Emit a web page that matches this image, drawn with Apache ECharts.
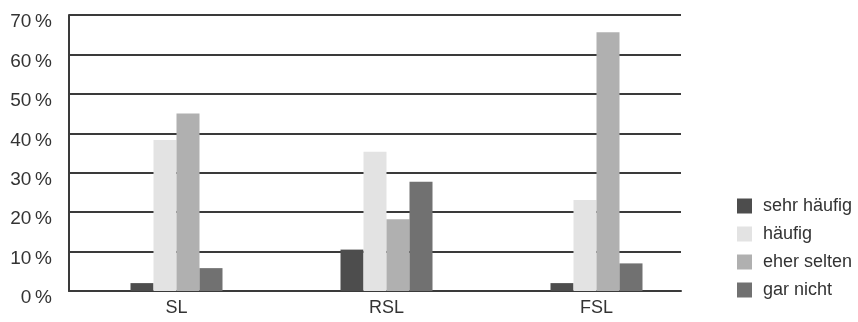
<!DOCTYPE html>
<html>
<head>
<meta charset="utf-8">
<script src="https://cdn.jsdelivr.net/npm/echarts@6/dist/echarts.min.js"></script>
<style>
  html, body { margin: 0; padding: 0; background: #fff; }
  #chart { width: 858px; height: 322px; }
</style>
</head>
<body>
<div id="chart"></div>
<script>
// Survey groups along the x axis
const categories = ['SL', 'RSL', 'FSL'];

// Answer shares in percent, one array per answer
const sehrHaeufig = [2, 10.5, 2];
const haeufig = [38.3, 35.3, 23.1];
const eherSelten = [45, 18.2, 65.6];
const garNicht = [5.8, 27.7, 7];

const seriesNames = ['sehr häufig', 'häufig', 'eher selten', 'gar nicht'];
const seriesValues = [sehrHaeufig, haeufig, eherSelten, garNicht];
const seriesColors = ['#4d4d4d', '#e3e3e3', '#b0b0b0', '#717171'];

const yTicks = [0, 10, 20, 30, 40, 50, 60, 70];

const fontFamily = '"Liberation Sans", Arial, sans-serif';
const textColor = '#333333';
const lineColor = '#3a3a3a';

const chart = echarts.init(document.getElementById('chart'), null, { renderer: 'canvas' });

chart.setOption({
  animation: false,
  backgroundColor: '#fff',
  grid: [
    // bars
    { left: 71.5, top: 15, width: 630, height: 276 },
    // frame and horizontal rules
    { left: 69, top: 15, width: 612, height: 276 }
  ],
  legend: {
    orient: 'vertical',
    left: 732,
    top: 192,
    itemWidth: 15,
    itemHeight: 15,
    itemGap: 10,
    icon: 'rect',
    data: seriesNames,
    textStyle: { fontFamily, fontSize: 18, color: textColor, padding: [0, 0, 0, 6] }
  },
  xAxis: [
    {
      gridIndex: 0,
      type: 'category',
      data: categories,
      axisLine: { show: false },
      axisTick: { show: false },
      axisLabel: { fontFamily, fontSize: 18, color: textColor, margin: 8 }
    },
    {
      gridIndex: 1,
      type: 'value',
      min: 0,
      max: 1,
      axisLine: { show: true, lineStyle: { color: lineColor, width: 2 } },
      axisTick: { show: false },
      axisLabel: { show: false },
      splitLine: { show: false }
    }
  ],
  yAxis: [
    {
      gridIndex: 0,
      type: 'value',
      min: 0,
      max: 70,
      interval: 10,
      show: false
    },
    {
      gridIndex: 1,
      type: 'value',
      min: yTicks[0],
      max: yTicks[yTicks.length - 1],
      interval: 10,
      axisLine: { show: true, lineStyle: { color: lineColor, width: 2 } },
      axisTick: { show: false },
      splitLine: { show: true, lineStyle: { color: lineColor, width: 2 } },
      axisLabel: {
        fontFamily,
        fontSize: 19,
        color: textColor,
        margin: 17,
        verticalAlign: 'top',
        lineHeight: 14,
        formatter: v => v + '\u2009%'
      }
    }
  ],
  series: seriesNames.map((name, i) => ({
    name,
    type: 'bar',
    xAxisIndex: 0,
    yAxisIndex: 0,
    data: seriesValues[i],
    barWidth: 23,
    barGap: '0%',
    itemStyle: { color: seriesColors[i] },
    z: 3
  }))
});
</script>
</body>
</html>
